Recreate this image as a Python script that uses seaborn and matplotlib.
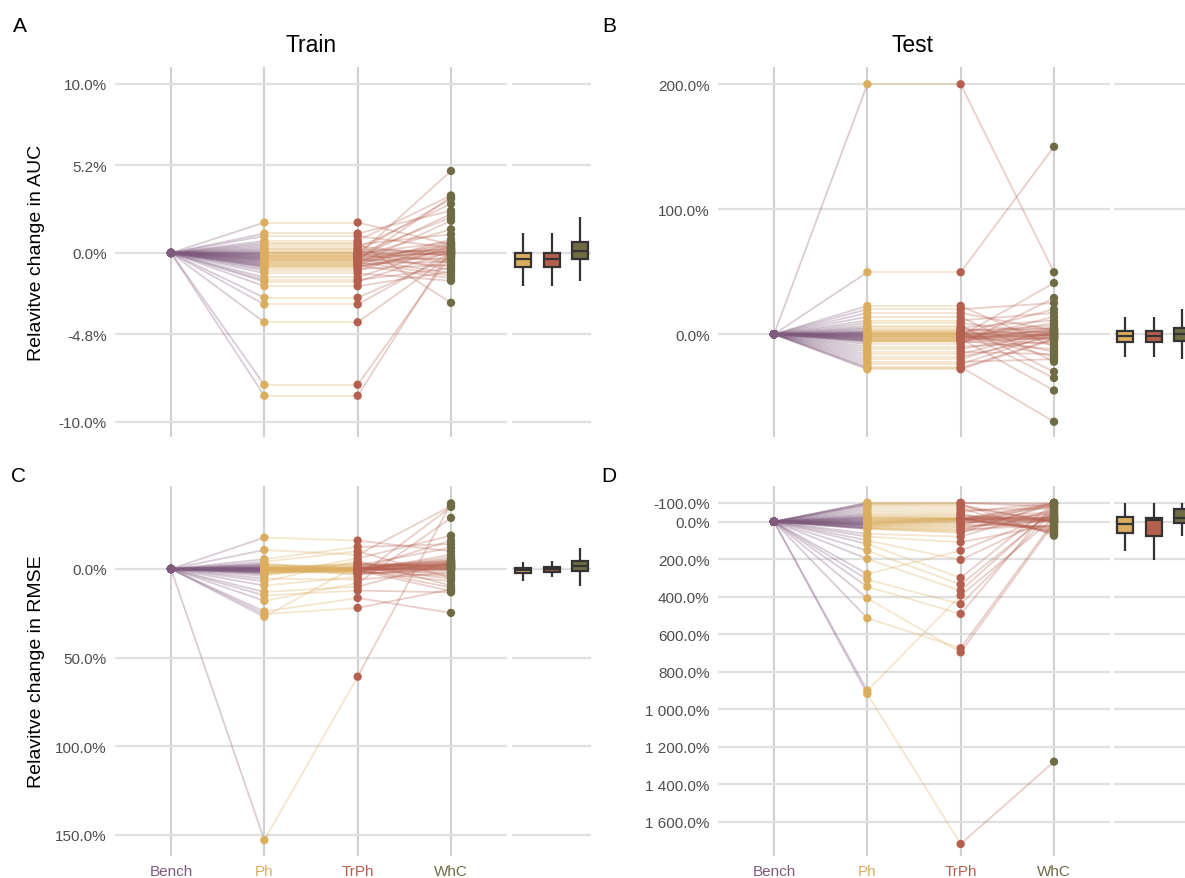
import numpy as np
import pandas as pd
import matplotlib
matplotlib.use("Agg")
import matplotlib.pyplot as plt
import seaborn as sns

METHODS = ["Bench", "Ph", "TrPh", "WhC"]
COLORS = ["#7F5A7C", "#DBAE5F", "#B5604F", "#6E6B45"]

# ---- Panel A: Train, relative change in AUC (%) ----
PH_A = [1.8, 1.15, 1.0, 0.72, 0.6, 0.5, 0.4, 0.3, 0.22, 0.15, 0.08, 0.03,
        0.0, -0.03, -0.07, -0.1, -0.13, -0.16, -0.19, -0.22, -0.25, -0.28, -0.31, -0.34,
        -0.37, -0.4, -0.43, -0.46, -0.5, -0.54, -0.58, -0.62, -0.66, -0.7, -0.74, -0.78,
        -0.82, -0.85, -0.95, -1.05, -1.2, -1.45, -1.6, -1.7, -1.97, -2.65, -3.05, -4.1,
        -7.8, -8.45]
TRPH_A = [1.8, 1.15, 1.0, 0.72, 0.6, 0.5, 0.4, 0.3, 0.22, 0.15, 0.08, 0.03,
          0.0, -0.03, -0.07, -0.1, -0.13, -0.16, -0.19, -0.22, -0.25, -0.28, -0.31, -0.34,
          -0.37, -0.4, -0.43, -0.46, -0.5, -0.54, -0.58, -0.62, -0.66, -0.7, -0.74, -0.78,
          -0.82, -0.85, -0.95, -1.05, -1.2, -1.45, -1.6, -1.7, -1.97, -2.65, -3.05, -4.1,
          -7.8, -8.45]
WHC_A = [0.5, 2.5, 0.3, 3.4, -2.95, 1.1, -0.2, 2.9, 0.05, -0.6, 3.2, 0.17,
         -1.0, 0.65, 2.1, -0.07, 4.85, 0.27, -0.4, 1.4, 0.0, 2.3, -0.8, 0.45,
         -1.2, 0.11, 3.3, -0.3, 0.6, -1.35, 0.35, 1.9, -0.5, 0.8, -1.5, 0.2,
         -0.03, 0.14, -0.7, 0.55, -1.65, 0.4, -0.9, 0.08, -1.1, -0.25, 0.02, -0.15,
         -0.11, 0.24]

# ---- Panel B: Test, relative change in AUC (%) ----
PH_B = [200, 49.6, 22.7, 20, 17, 14, 11, 9, 7, 5.5, 4.5, 3.5, 2.4, 2.0, 1.6, 1.2, 0.8, 0.5,
        0.2, -0.1, -0.4, -0.7, -1.0, -1.3, -1.6, -1.9, -2.2, -2.5, -2.8, -3.1, -3.5, -3.9,
        -4.3, -4.7, -5.0, -5.3, -5.6, -6.5, -8, -10, -12, -14, -16, -18, -20, -22, -24, -26,
        -27, -28]
TRPH_B = [200, 49.6, 22.7, 20, 17, 14, 11, 9, 7, 5.5, 4.5, 3.5, 2.4, 2.0, 1.6, 1.2, 0.8, 0.5,
          0.2, -0.1, -0.4, -0.7, -1.0, -1.3, -1.6, -1.9, -2.2, -2.5, -2.8, -3.1, -3.5, -3.9,
          -4.3, -4.7, -5.0, -5.3, -5.6, -6.5, -8, -10, -12, -14, -16, -18, -20, -22, -24, -26,
          -27, -28]
WHC_B = [49.6, 150, -10, 25, 3.1, -22, 17, 0.3, -30, 11, -1.5, 4.3, -35, 7, -3.9, 1.9, -14,
         20, -0.7, 5.5, -18, 2.7, -2.3, 41, -4.5, 0, -8, 9, -1.1, 3.5, -45, 1.1, -3.1, 14,
         -0.3, -12, 4.8, -2.7, 29, -6, 1.5, -16, 3.9, -1.9, 2.3, -20, 0.7, -70, -3.5, -4.2]

# ---- Panel C: Train, relative change in RMSE (%) ----
PH_C = [153, -17.7, -10.7, -5.5, -4, 4, 5.5, 7, 9.4, 13, 15, 18, 24, 25.5, 27,
        -2.2, -1.8, -1.5, -1.2, -1.0, -0.8, -0.6, -0.5, -0.4, -0.3, -0.2, -0.1, 0, 0, 0.1,
        0.2, 0.3, 0.4, 0.5, 0.6, 0.7, 0.8, 0.9, 1.0, 1.1, 1.2, 1.4, 1.6, 1.8, 2.0, 2.3, 2.6,
        3.0, -2.6, -3.0]
TRPH_C = [60.8, -16, -8, -12.4, -10, -6, 6, -4.5, 4.5, 10, 12.2, 8, 16.4, 22, -2.0,
          0.4, -1.6, 2.4, -0.3, 1.0, -2.8, 0.1, -0.5, 3.2, 0, -1.3, 0.7, -0.1, 1.6, -3.2,
          0.2, -0.8, 2.0, 0.05, -2.4, 0.5, -0.6, 1.2, -0.2, 2.8, 0.15, -1.0, 0.3, -0.4, 1.4,
          0.8, -0.05, 0, 0.6, -0.15]
WHC_C = [-37, -10, -35.5, -14, 5, -18.8, 2, 9.4, -35, -4.0, 13.2, -28.8, 24.8, 11.5, -12,
         -16, -4.7, 1.2, -2.3, -8, -0.5, -3.5, 3, -1.1, -6.5, -2.7, 0.1, -4.2, 4, -1.9,
         -0.9, 5.6, -3.0, -5.5, -1.5, 0.3, -4.5, 7, -2.1, -0.3, 10.5, -3.7, -1.3, 0.6, -2.5,
         12.5, -0.7, -3.2, -1.7, -0.1]

# ---- Panel D: Test, relative change in RMSE (%) ----
PH_D = [919, 901, 515, 409, 347, 309, 279, 199, 155, 119, 100, 80, 65, 39, 37, 35, 33, 30,
        27, 24, 21, 19, 17, 15, 13, 11, 9, 7, 4, 1, -2, -5, -8, -11, -14, -17, -20, -23, -27,
        -32, -38, -45, -55, -65, -75, -85, -90, -95, -100, -100]
TRPH_D = [1719, 394, 675, 697, 492, 440, 155, 368, 335, 300, 204, 110, 80, 60, 54, 48, 42, 35,
          28, 22, 16, 10, 4, -1, -5, -8, -10, -11, -12, -12.5, -13, -13.5, -14, -14.5, -15, -16,
          -17, -18, -22, -28, -35, -42, -50, -60, -70, -80, -88, -95, -100, -100]
WHC_D = [1280, -20, -4, 8, -100, -56, -41, -75, -61, -100, -31, 14, -66, -100, -14, -90, 20,
         -27, -8, -100, 26, -46, -12, 32, -85, -22, 1, -93, 38, -18, -36, 45, -6, -98, 50, -24,
         -10, -51, 55, -16, -2, 60, -100, -71, 66, 0, 3, 75, -96, -80]

TICKS_A = [-10.0, -4.8, 0.0, 5.2, 10.0]
TICKS_B = [0.0, 100.0, 200.0]
TICKS_C = [0.0, 50.0, 100.0, 150.0]
TICKS_D = [-100.0, 0.0, 200.0, 400.0, 600.0, 800.0, 1000.0, 1200.0, 1400.0, 1600.0]

W, H = 1185, 879


def fmt(v):
    return f"{v:,.1f}".replace(",", " ") + "%"


def long_frame(ph, trph, whc):
    n = len(ph)
    rows = []
    for i in range(n):
        for k, (m, v) in enumerate(zip(METHODS, [0.0, ph[i], trph[i], whc[i]])):
            rows.append({"id": i, "method": m, "x": k, "value": v})
    return pd.DataFrame(rows)


sns.set_theme(style="white")
plt.rcParams["font.family"] = ["Liberation Sans", "DejaVu Sans"]
plt.rcParams["text.color"] = "black"
plt.rcParams["axes.labelcolor"] = "black"

fig = plt.figure(figsize=(W / 100, H / 100), dpi=100)
fig.patch.set_facecolor("white")

GRID_V = "#d0d0d0"
GRID_H = "#e0e0e0"
TICK_C = "#4d4d4d"
pal = dict(zip(METHODS, COLORS))

panels = [
    dict(ph=PH_A, trph=TRPH_A, whc=WHC_A, ticks=TICKS_A, ylim=(-10.89, 11.0),
         main_left=115, box_left=512, top=68, bottom_row=False),
    dict(ph=PH_B, trph=TRPH_B, whc=WHC_B, ticks=TICKS_B, ylim=(-82.2, 213.8),
         main_left=718, box_left=1114, top=68, bottom_row=False),
    dict(ph=PH_C, trph=TRPH_C, whc=WHC_C, ticks=TICKS_C, ylim=(162.0, -46.8),
         main_left=115, box_left=512, top=487, bottom_row=True),
    dict(ph=PH_D, trph=TRPH_D, whc=WHC_D, ticks=TICKS_D, ylim=(1783.0, -190.0),
         main_left=718, box_left=1114, top=487, bottom_row=True),
]

AX_H = 370
MAIN_W = 392
BOX_W = 79

for p in panels:
    df = long_frame(p["ph"], p["trph"], p["whc"])
    bottom = 1 - (p["top"] + AX_H) / H
    ax = fig.add_axes([p["main_left"] / W, bottom, MAIN_W / W, AX_H / H])
    axb = fig.add_axes([p["box_left"] / W, bottom, BOX_W / W, AX_H / H])

    # connecting lines, coloured by starting method
    for k in range(3):
        seg = df[df["x"].isin([k, k + 1])]
        sns.lineplot(data=seg, x="x", y="value", units="id", estimator=None,
                     color=COLORS[k], alpha=0.3, linewidth=1.3, ax=ax, legend=False)
    sns.scatterplot(data=df, x="x", y="value", hue="method", palette=pal, s=36,
                    linewidth=0, ax=ax, legend=False, zorder=4)

    ax.set_xlim(-0.6, 3.6)
    ax.set_ylim(*p["ylim"])
    ax.set_xticks(range(4))
    ax.set_yticks(p["ticks"])
    ax.set_yticklabels([fmt(t) for t in p["ticks"]])
    if p["bottom_row"]:
        ax.set_xticklabels(METHODS)
    else:
        ax.set_xticklabels([])
    ax.set_xlabel("")
    ax.set_ylabel("")
    ax.grid(True, axis="x", color=GRID_V, linewidth=1.5, zorder=0)
    ax.grid(True, axis="y", color=GRID_H, linewidth=1.6, zorder=0)
    ax.set_axisbelow(True)
    for s in ax.spines.values():
        s.set_visible(False)
    ax.tick_params(axis="both", length=0, labelsize=11, labelcolor=TICK_C, pad=6)
    if p["bottom_row"]:
        for lab, c in zip(ax.get_xticklabels(), COLORS):
            lab.set_color(c)

    # boxplots
    sub = df[df["method"] != "Bench"]
    sns.boxplot(data=sub, x="method", y="value", hue="method", order=METHODS[1:],
                hue_order=METHODS[1:], palette=pal, showfliers=False, showcaps=False,
                width=0.55, linewidth=1.6, linecolor="#333333", saturation=1,
                ax=axb, legend=False)
    axb.set_xlim(-0.38, 2.37)
    axb.set_ylim(*p["ylim"])
    axb.set_yticks(p["ticks"])
    axb.set_yticklabels([])
    axb.set_xticks([])
    axb.set_xlabel("")
    axb.set_ylabel("")
    axb.grid(True, axis="y", color=GRID_H, linewidth=1.6, zorder=0)
    axb.grid(False, axis="x")
    axb.set_axisbelow(True)
    for s in axb.spines.values():
        s.set_visible(False)
    axb.tick_params(length=0)

# titles, labels, panel tags
fig.text(311 / W, 1 - 46 / H, "Train", fontsize=16.5, ha="center", va="center")
fig.text(913 / W, 1 - 46 / H, "Test", fontsize=16.5, ha="center", va="center")
fig.text(37 / W, 1 - 253 / H, "Relavitve change in AUC", fontsize=14, rotation=90,
         ha="center", va="center")
fig.text(37 / W, 1 - 672 / H, "Relavitve change in RMSE", fontsize=14, rotation=90,
         ha="center", va="center")
for tag, (x, y) in zip("ABCD", [(20, 27), (609, 27), (19, 477), (609, 477)]):
    fig.text(x / W, 1 - y / H, tag, fontsize=15, ha="center", va="center")

fig.savefig("out.png", dpi=100, facecolor="white")
